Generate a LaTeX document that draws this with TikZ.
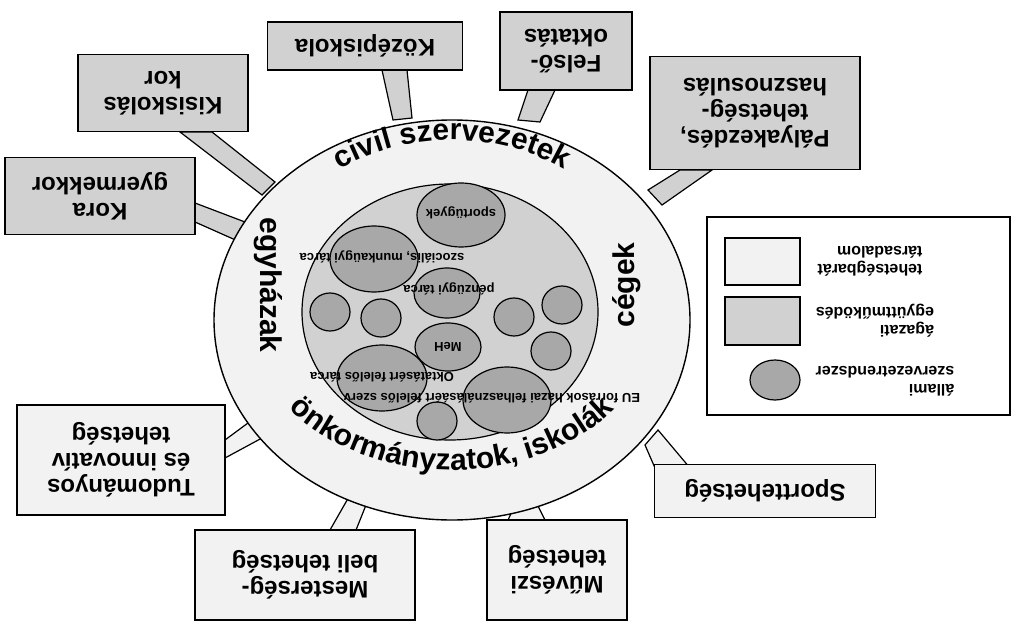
\documentclass[tikz,border=0pt]{standalone}
\usepackage{fontspec}
\setmainfont{Liberation Sans}
\usetikzlibrary{decorations.text}
\definecolor{darkfill}{gray}{0.66}
\definecolor{midfill}{gray}{0.82}
\definecolor{lightfill}{gray}{0.95}
\tikzset{
  topbox/.style={draw, line width=1.2pt, fill=midfill, rotate=180, align=center,
    font=\fontsize{24}{26}\selectfont\bfseries, inner sep=0pt},
  botbox/.style={topbox, fill=lightfill},
  wedge/.style={draw, line width=1.2pt, fill=midfill},
  blob/.style={draw, line width=1.2pt, fill=darkfill},
  smalltxt/.style={rotate=180, font=\fontsize{13}{14}\selectfont\bfseries, inner sep=0pt},
  legtxt/.style={rotate=180, align=left, font=\fontsize{16}{18}\selectfont\bfseries, inner sep=0pt},
  sidetxt/.style={font=\fontsize{30}{32}\selectfont\bfseries, inner sep=0pt},
  ringtxt/.style={decorate, decoration={text along path, text align=center,
    text format delimiters={|}{|}}}
}
\begin{document}
\begin{tikzpicture}[x=1pt,y=1pt]
  \useasboundingbox (0,0) rectangle (1024,-636);
  \fill[white] (0,0) rectangle (1024,-636);

  % callout wedges
  \draw[wedge] (195,-203) -- (195,-222) -- (240,-242) -- (245,-222) -- cycle;
  \draw[wedge] (180,-132) -- (212,-132) -- (275,-182) -- (262,-195) -- cycle;
  \draw[wedge] (382,-70) -- (407,-70) -- (412,-118) -- (393,-120) -- cycle;
  \draw[wedge] (528,-90) -- (555,-90) -- (540,-122) -- (518,-120) -- cycle;
  \draw[wedge] (680,-170) -- (712,-170) -- (662,-205) -- (648,-190) -- cycle;
  \draw[wedge, fill=lightfill] (225,-440) -- (225,-458) -- (262,-438) -- (252,-420) -- cycle;
  \draw[wedge, fill=lightfill] (330,-530) -- (356,-530) -- (368,-500) -- (350,-495) -- cycle;
  \draw[wedge, fill=lightfill] (508,-520) -- (545,-520) -- (535,-500) -- (515,-505) -- cycle;
  \draw[wedge, fill=lightfill] (655,-468) -- (690,-468) -- (658,-430) -- (645,-445) -- cycle;

  % ring and inner area
  \draw[line width=1.4pt, fill=lightfill] (452,-320) ellipse (238 and 200);
  \draw[line width=1.2pt, fill=midfill] (450,-312) ellipse (148 and 128);

  % ring labels
  \path[ringtxt, decoration={text={|\fontsize{30}{32}\selectfont\bfseries|civil szervezetek}}]
    (452,-320) ++(145:205 and 180) arc (145:35:205 and 180);
  \path[ringtxt, decoration={text={|\fontsize{30}{32}\selectfont\bfseries|önkormányzatok, iskolák}}]
    (452,-320) ++(-165:202 and 150) arc (-165:-15:202 and 150);
  \node[sidetxt, rotate=90] (cegek) at (627,-285) {cégek};
  \node[sidetxt, rotate=-90] (egyhaz) at (268,-285) {egyházak};

  % state organisations
  \draw[blob] (461,-215) ellipse (44 and 32);
  \draw[blob] (374,-259) ellipse (44 and 33);
  \draw[blob] (447,-293) ellipse (33 and 25);
  \draw[blob] (330,-312) ellipse (20 and 19);
  \draw[blob] (381,-318) ellipse (20 and 19);
  \draw[blob] (514,-317) ellipse (20 and 19);
  \draw[blob] (562,-305) ellipse (20 and 19);
  \draw[blob] (551,-351) ellipse (20 and 19);
  \draw[blob] (448,-347) ellipse (33 and 24);
  \draw[blob] (382,-378) ellipse (45 and 33);
  \draw[blob] (507,-400) ellipse (44 and 33);
  \draw[blob] (437,-421) ellipse (20 and 19);

  \node[smalltxt] (sport) at (461,-213) {sportügyek};
  \node[smalltxt] (szoc) at (382,-257) {szociális, munkaügyi tárca};
  \node[smalltxt] (penz) at (449,-289) {pénzügyi tárca};
  \node[smalltxt] (meh) at (448,-347) {MeH};
  \node[smalltxt] (okt) at (382,-377) {Oktatásért felelős tárca};
  \node[smalltxt] (eu) at (492,-398) {EU források hazai felhasználásáért felelős szerv};

  % stage boxes
  \node[topbox, minimum width=190pt, minimum height=77pt] (kora) at (100,-196) {Kora\\gyermekkor};
  \node[topbox, minimum width=170pt, minimum height=77pt] (kisisk) at (163,-93) {Kisiskolás\\kor};
  \node[topbox, minimum width=195pt, minimum height=48pt] (kozep) at (365,-46) {Középiskola};
  \node[topbox, minimum width=132pt, minimum height=78pt] (felso) at (566,-51) {Felső-\\oktatás};
  \node[topbox, minimum width=210pt, minimum height=113pt] (palya) at (755,-113) {Pályakezdés,\\tehetség-\\hasznosulás};
  \node[botbox, minimum width=208pt, minimum height=110pt] (tud) at (121,-460) {Tudományos\\és innovatív\\tehetség};
  \node[botbox, minimum width=220pt, minimum height=90pt] (mest) at (305,-575) {Mesterség-\\beli tehetség};
  \node[botbox, minimum width=140pt, minimum height=100pt] (muv) at (557,-570) {Művészi\\tehetség};
  \node[botbox, minimum width=221pt, minimum height=53pt] (sporttal) at (765,-491) {Sporttehetség};

  % legend
  \draw[line width=1.2pt, fill=white] (707,-217) rectangle (1010,-415);
  \draw[line width=1.2pt, fill=lightfill] (725,-238) rectangle (800,-285);
  \draw[line width=1.2pt, fill=midfill] (725,-297) rectangle (800,-345);
  \draw[blob] (775,-380) ellipse (25 and 20);
  \node[legtxt] (leg1) at (870,-261) {tehetségbarát\\társadalom};
  \node[legtxt] (leg2) at (875,-321) {ágazati\\együttműködés};
  \node[legtxt] (leg3) at (885,-381) {állami\\szervezetrendszer};
\end{tikzpicture}
\end{document}
